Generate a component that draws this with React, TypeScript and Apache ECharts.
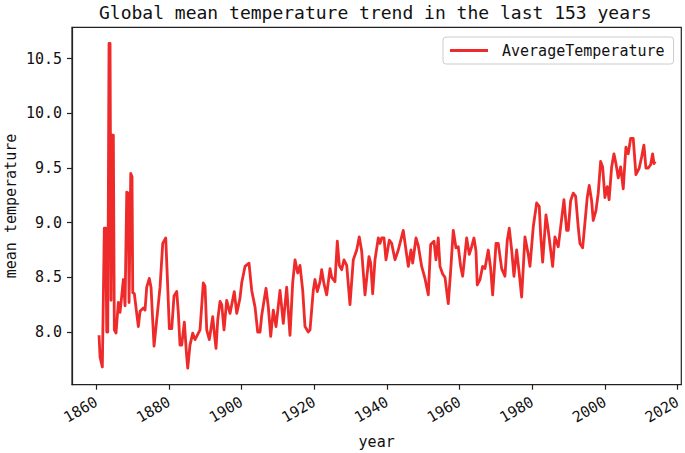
import React, { useEffect, useRef } from "react";
import * as echarts from "echarts";

const years: number[] = [
  1860.74, 1861.02, 1861.65, 1862.2, 1862.59, 1862.86, 1863.14, 1863.49, 1863.77, 1864.05,
  1864.32, 1864.68, 1864.95, 1865.42, 1866.05, 1866.52, 1866.99, 1867.43, 1867.9, 1868.37,
  1868.81, 1869.0, 1869.47, 1869.82, 1870.02, 1870.46, 1871.11, 1871.56, 1872.03, 1872.93,
  1873.4, 1873.87, 1874.58, 1875.05, 1875.88, 1876.62, 1877.53, 1878.27, 1879.1, 1879.65,
  1880.09, 1880.75, 1881.38, 1882.12, 1882.56, 1883.03, 1883.5, 1884.22, 1884.88, 1885.15,
  1885.78, 1886.53, 1887.16, 1887.63, 1888.54, 1889.44, 1889.91, 1890.38, 1891.1, 1892.03,
  1892.47, 1892.94, 1893.41, 1894.04, 1894.51, 1895.14, 1895.88, 1896.79, 1897.97, 1898.64,
  1899.54, 1900.01, 1900.92, 1902.02, 1902.76, 1903.67, 1904.41, 1905.05, 1905.51, 1906.7,
  1907.33, 1907.99, 1908.71, 1909.45, 1910.55, 1911.46, 1912.39, 1913.3, 1914.04, 1914.68,
  1915.42, 1916.05, 1916.8, 1917.43, 1918.34, 1918.81, 1919.71, 1920.18, 1920.81, 1921.56,
  1922.02, 1922.66, 1923.4, 1924.31, 1924.78, 1925.68, 1926.32, 1926.87, 1927.53, 1928.16,
  1928.91, 1929.81, 1930.72, 1931.66, 1932.37, 1933.03, 1933.94, 1935.04, 1935.51, 1936.06,
  1936.69, 1937.6, 1938.07, 1938.53, 1939.17, 1939.72, 1940.63, 1941.29, 1942.2, 1943.1,
  1944.48, 1945.22, 1945.86, 1946.6, 1947.07, 1947.98, 1948.61, 1949.54, 1950.45, 1951.36,
  1952.02, 1952.93, 1953.48, 1954.11, 1954.58, 1955.32, 1955.96, 1956.86, 1957.52, 1958.24,
  1958.98, 1959.61, 1960.27, 1960.82, 1961.93, 1962.64, 1963.3, 1963.94, 1964.49, 1964.84,
  1965.59, 1966.33, 1966.96, 1967.87, 1968.53, 1969.08, 1970.0, 1970.62, 1971.56, 1972.46,
  1973.1, 1973.65, 1974.31, 1974.94, 1975.68, 1976.32, 1977.06, 1977.97, 1978.88, 1979.35,
  1980.25, 1981.19, 1981.9, 1982.29, 1982.84, 1983.75, 1984.38, 1985.04, 1985.59, 1986.22,
  1987.13, 1987.79, 1988.7, 1989.44, 1989.88, 1990.54, 1991.26, 1991.92, 1992.63, 1993.1,
  1993.84, 1994.48, 1995.11, 1995.66, 1996.32, 1996.76, 1997.51, 1998.14, 1998.8, 1999.35,
  1999.98, 2000.62, 2001.13, 2001.83, 2002.46, 2003.01, 2003.64, 2004.31, 2005.02, 2005.76,
  2006.39, 2007.06, 2007.77, 2008.51, 2009.42, 2010.08, 2010.71, 2011.27, 2011.9, 2012.56,
  2013.11, 2013.47, 2013.83,
];

const temps: number[] = [
  7.97, 7.77, 7.68, 8.95, 8.95, 8.0, 8.0, 10.64, 10.64, 8.29,
  9.8, 9.8, 8.02, 7.99, 8.27, 8.18, 8.33, 8.48, 8.24, 9.28,
  9.27, 8.27, 9.45, 9.42, 8.36, 8.35, 8.17, 8.05, 8.19, 8.22,
  8.2, 8.41, 8.49, 8.41, 7.87, 8.11, 8.41, 8.81, 8.86, 8.41,
  8.03, 8.03, 8.33, 8.37, 8.18, 7.88, 7.88, 8.09, 7.77, 7.67,
  7.88, 7.99, 7.93, 7.96, 8.02, 8.45, 8.42, 8.02, 7.93, 8.14,
  7.99, 7.85, 8.11, 8.28, 8.25, 8.02, 8.29, 8.17, 8.37, 8.17,
  8.31, 8.45, 8.6, 8.63, 8.38, 8.23, 8.0, 8.0, 8.15, 8.4,
  8.23, 7.96, 8.2, 8.05, 8.38, 8.08, 8.41, 7.97, 8.45, 8.66,
  8.54, 8.61, 8.38, 8.05, 8.0, 8.02, 8.38, 8.48, 8.37, 8.46,
  8.57, 8.44, 8.34, 8.58, 8.5, 8.46, 8.83, 8.61, 8.57, 8.66,
  8.61, 8.25, 8.66, 8.75, 8.87, 8.74, 8.34, 8.69, 8.63, 8.35,
  8.66, 8.86, 8.81, 8.86, 8.86, 8.66, 8.84, 8.81, 8.66, 8.75,
  8.93, 8.75, 8.6, 8.75, 8.63, 8.86, 8.79, 8.6, 8.49, 8.34,
  8.8, 8.83, 8.66, 8.86, 8.6, 8.53, 8.5, 8.26, 8.56, 8.93,
  8.77, 8.78, 8.6, 8.51, 8.86, 8.71, 8.78, 8.86, 8.74, 8.43,
  8.48, 8.6, 8.58, 8.75, 8.58, 8.34, 8.81, 8.81, 8.58, 8.51,
  8.84, 8.95, 8.75, 8.51, 8.75, 8.56, 8.32, 8.87, 8.71, 8.6,
  8.96, 9.18, 9.15, 8.89, 8.64, 9.07, 8.93, 8.75, 8.6, 8.87,
  8.78, 8.96, 9.21, 8.93, 8.93, 9.2, 9.27, 9.24, 8.96, 8.81,
  8.77, 9.0, 9.23, 9.34, 9.2, 9.02, 9.11, 9.27, 9.56, 9.51,
  9.23, 9.33, 9.21, 9.51, 9.63, 9.54, 9.41, 9.51, 9.31, 9.69,
  9.63, 9.77, 9.77, 9.44, 9.5, 9.6, 9.71, 9.5, 9.5, 9.53,
  9.63, 9.54, 9.56,
];

const xTicks: number[] = [1860, 1880, 1900, 1920, 1940, 1960, 1980, 2000, 2020];
const yTicks: number[] = [8.0, 8.5, 9.0, 9.5, 10.0, 10.5];

const FONT = "DejaVu Sans Mono";
const INK = "#222";

export default function App() {
  const ref = useRef<HTMLDivElement>(null);

  useEffect(() => {
    if (!ref.current) return;
    const chart = echarts.init(ref.current, undefined, { renderer: "svg" });
    chart.setOption({
      animation: false,
      backgroundColor: "#fff",
      title: {
        text: "Global mean temperature trend in the last 153 years",
        left: 99,
        top: 3,
        padding: 0,
        textStyle: { fontFamily: FONT, fontSize: 18, fontWeight: "normal", color: "#111" },
      },
      legend: {
        left: 443,
        top: 37,
        padding: [6, 9, 6, 7],
        borderColor: "#ccc",
        borderWidth: 1,
        borderRadius: 3,
        backgroundColor: "#fff",
        icon: "rect",
        itemWidth: 38,
        itemHeight: 3,
        textStyle: { fontFamily: FONT, fontSize: 15, color: "#111", padding: [0, 0, 0, 9] },
        data: ["AverageTemperature"],
      },
      grid: {
        left: 72,
        right: 3.7,
        top: 27.3,
        bottom: 68.3,
        show: true,
        borderColor: INK,
        borderWidth: 1.2,
        containLabel: false,
        outerBoundsMode: "none",
      },
      xAxis: {
        type: "value",
        min: 1853.3,
        max: 2021.0,
        name: "year",
        nameLocation: "middle",
        nameGap: 50,
        nameTextStyle: { fontFamily: FONT, fontSize: 15, color: "#111" },
        axisLine: { show: true, lineStyle: { color: INK, width: 1.2 } },
        axisTick: { show: true, length: 5, lineStyle: { color: INK, width: 1.2 }, customValues: xTicks },
        axisLabel: {
          customValues: xTicks,
          rotate: 30,
          margin: 16,
          fontFamily: FONT,
          fontSize: 15,
          color: "#111",
          formatter: (v: number) => String(Math.round(v)),
        },
        splitLine: { show: false },
      },
      yAxis: {
        type: "value",
        min: 7.518,
        max: 10.787,
        name: "mean temperature",
        nameLocation: "middle",
        nameGap: 54,
        nameMoveOverlap: false,
        nameRotate: 90,
        nameTextStyle: { fontFamily: FONT, fontSize: 15, color: "#111" },
        axisLine: { show: true, lineStyle: { color: INK, width: 1.2 } },
        axisTick: { show: true, length: 5, lineStyle: { color: INK, width: 1.2 }, customValues: yTicks },
        axisLabel: {
          customValues: yTicks,
          margin: 10,
          fontFamily: FONT,
          fontSize: 15,
          color: "#111",
          formatter: (v: number) => v.toFixed(1),
        },
        splitLine: { show: false },
      },
      series: [
        {
          name: "AverageTemperature",
          type: "line",
          data: years.map((y, i) => [y, temps[i]]),
          symbol: "none",
          showSymbol: false,
          lineStyle: { color: "#ee2a2a", width: 2.8, join: "round" },
          itemStyle: { color: "#ee2a2a" },
        },
      ],
    });
    return () => chart.dispose();
  }, []);

  return (
    <div
      ref={ref}
      style={{ position: "fixed", left: 0, top: 0, width: 685, height: 453, background: "#fff" }}
    />
  );
}
